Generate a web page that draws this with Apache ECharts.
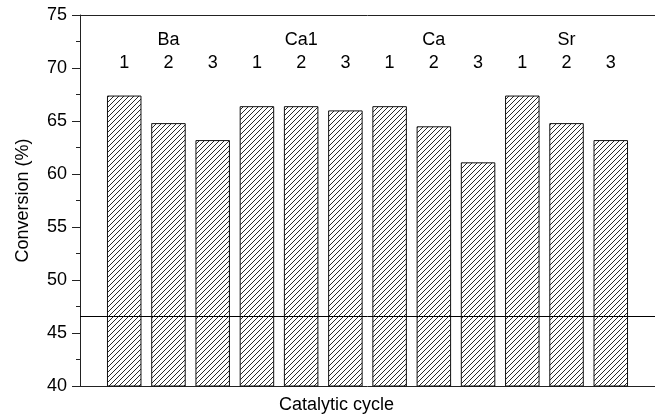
<!DOCTYPE html>
<html>
<head>
<meta charset="utf-8">
<script src="https://cdn.jsdelivr.net/npm/echarts@6/dist/echarts.min.js"></script>
<style>
html,body{margin:0;padding:0;background:#fff;width:100%;height:100%;overflow:hidden;}
#chart{width:655px;height:414px;}
</style>
</head>
<body>
<div id="chart"></div>
<script>
// Categories (with empty padding slots at both ends)
var categories = ['', 'Ba-1','Ba-2','Ba-3','Ca1-1','Ca1-2','Ca1-3','Ca-1','Ca-2','Ca-3','Sr-1','Sr-2','Sr-3', ''];
var cycleLabels = ['', '1','2','3','1','2','3','1','2','3','1','2','3', ''];
var groupLabels = ['', '','Ba','','','Ca1','','','Ca','','','Sr','', ''];
var conversion = ['-', 67.4, 64.8, 63.2, 66.4, 66.4, 66.0, 66.4, 64.5, 61.1, 67.4, 64.8, 63.2, '-'];
var refLine = 46.6;
var yTicks = {min: 40, max: 75, interval: 5};

function hatch() {
  var c = document.createElement('canvas');
  var s = 5;
  c.width = s; c.height = s;
  var ctx = c.getContext('2d');
  ctx.fillStyle = '#fff';
  ctx.fillRect(0, 0, s, s);
  ctx.strokeStyle = '#111';
  ctx.lineWidth = 0.9;
  ctx.beginPath();
  ctx.moveTo(-1, s + 1); ctx.lineTo(s + 1, -1);
  ctx.moveTo(-1, 1); ctx.lineTo(1, -1);
  ctx.moveTo(s - 1, s + 1); ctx.lineTo(s + 1, s - 1);
  ctx.stroke();
  return c;
}

var font = 'Liberation Sans, Arial, sans-serif';
var chart = echarts.init(document.getElementById('chart'));
chart.setOption({
  animation: false,
  backgroundColor: '#fff',
  grid: {left: 80, right: 0, top: 15, bottom: 28, outerBoundsMode: 'none', containLabel: false},
  xAxis: [{
    type: 'category',
    data: categories,
    boundaryGap: false,
    position: 'bottom',
    axisLine: {show: true, lineStyle: {color: '#222', width: 1}},
    axisTick: {show: false},
    axisLabel: {show: false},
    splitLine: {show: false},
    name: 'Catalytic cycle',
    nameLocation: 'middle',
    nameGap: 10,
    nameTextStyle: {fontFamily: font, fontSize: 18, color: '#000', padding: [0, 62, 0, 0]}
  }, {
    type: 'category',
    data: categories,
    boundaryGap: false,
    position: 'top',
    axisLine: {show: true, lineStyle: {color: '#222', width: 1}},
    axisTick: {show: false},
    splitLine: {show: false},
    axisLabel: {
      show: true,
      inside: true,
      margin: 14,
      interval: 0,
      formatter: function (v, i) {
        return '{g|' + (groupLabels[i] || ' ') + '}\n{n|' + (cycleLabels[i] || ' ') + '}';
      },
      rich: {
        g: {fontFamily: font, fontSize: 18, color: '#000', lineHeight: 23},
        n: {fontFamily: font, fontSize: 18, color: '#000', lineHeight: 23}
      }
    }
  }],
  yAxis: {
    type: 'value',
    min: yTicks.min, max: yTicks.max, interval: yTicks.interval,
    axisLine: {show: true, lineStyle: {color: '#222', width: 1}},
    axisTick: {show: true, length: 8, lineStyle: {color: '#222'}},
    minorTick: {show: true, splitNumber: 2, length: 4, lineStyle: {color: '#222'}},
    splitLine: {show: false},
    axisLabel: {fontFamily: font, fontSize: 18, color: '#000', margin: 13},
    name: 'Conversion (%)',
    nameLocation: 'middle',
    nameGap: 48,
    nameTextStyle: {fontFamily: font, fontSize: 18, color: '#000'}
  },
  series: [{
    type: 'bar',
    xAxisIndex: 0,
    data: conversion,
    barWidth: 34.5,
    itemStyle: {
      color: {image: hatch(), repeat: 'repeat'},
      borderColor: '#111',
      borderWidth: 1
    },
    markLine: {
      silent: true,
      symbol: 'none',
      label: {show: false},
      lineStyle: {color: '#000', width: 1, type: 'solid'},
      data: [{yAxis: refLine}]
    }
  }]
});
</script>
</body>
</html>
